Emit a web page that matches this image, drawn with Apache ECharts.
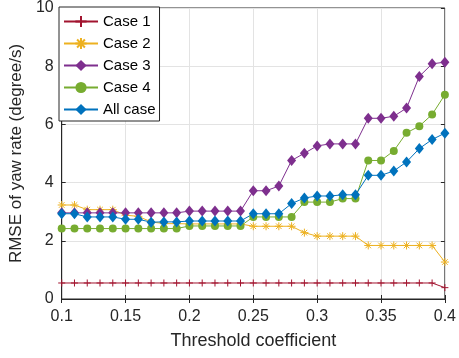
<!DOCTYPE html>
<html><head><meta charset="utf-8">
<script src="https://cdn.jsdelivr.net/npm/echarts@6/dist/echarts.min.js"></script>
<style>html,body{margin:0;padding:0;background:#fff}#c{width:459px;height:358px}</style>
</head><body><div id="c"></div>
<script>
const thresholds = [0.10,0.11,0.12,0.13,0.14,0.15,0.16,0.17,0.18,0.19,0.20,0.21,0.22,0.23,0.24,0.25,0.26,0.27,0.28,0.29,0.30,0.31,0.32,0.33,0.34,0.35,0.36,0.37,0.38,0.39,0.40];
const case1 = [0.55,0.55,0.55,0.55,0.55,0.55,0.55,0.55,0.55,0.55,0.55,0.55,0.55,0.55,0.55,0.55,0.55,0.55,0.55,0.55,0.55,0.55,0.55,0.55,0.55,0.55,0.55,0.55,0.55,0.55,0.39];
const case2 = [3.23,3.23,3.07,3.07,3.07,2.88,2.84,2.65,2.59,2.59,2.58,2.58,2.58,2.58,2.58,2.50,2.50,2.50,2.50,2.28,2.16,2.16,2.16,2.16,1.84,1.84,1.84,1.84,1.84,1.84,1.27];
const case3 = [2.96,2.96,2.96,2.96,2.96,2.96,2.96,2.96,2.96,2.96,3.02,3.02,3.02,3.02,3.02,3.72,3.72,3.88,4.76,5.01,5.26,5.33,5.33,5.33,6.21,6.21,6.28,6.56,7.65,8.08,8.14];
const case4 = [2.42,2.42,2.42,2.42,2.42,2.42,2.42,2.42,2.42,2.42,2.51,2.51,2.51,2.51,2.51,2.82,2.82,2.82,2.82,3.33,3.33,3.33,3.45,3.45,4.76,4.76,5.09,5.71,5.94,6.34,7.02];
const allCase = [2.93,2.93,2.82,2.82,2.82,2.74,2.74,2.64,2.65,2.65,2.68,2.68,2.68,2.68,2.68,2.93,2.93,2.93,3.28,3.47,3.54,3.54,3.58,3.58,4.25,4.25,4.40,4.71,5.17,5.48,5.70];
const seriesNames = ['Case 1','Case 2','Case 3','Case 4','All case'];
const xTicks = ['0.1','0.15','0.2','0.25','0.3','0.35','0.4'];

const colors = ['#A2142F','#EDB120','#7E2F8E','#77AC30','#0072BD'];
const plusPath = 'path://M0,-1L0,1M-1,0L1,0';
const starPath = 'path://M0,-1L0,1M-1,0L1,0M-0.7,-0.7L0.7,0.7M-0.7,0.7L0.7,-0.7';
const symbols = [plusPath, starPath, 'diamond', 'circle', 'diamond'];
const sizes = [[7,7],[8,8],[9,11],[8,8],[9,11]];
const datas = [case1, case2, case3, case4, allCase];
const font = 'Liberation Sans, Arial, Helvetica, sans-serif';
const axColor = '#262626';

const series = seriesNames.map((n,i)=>({
  name:n, type:'line', xAxisIndex:0, yAxisIndex:0,
  data: thresholds.map((t,j)=>[t, datas[i][j]]),
  symbol: symbols[i], symbolSize: sizes[i], showAllSymbol:true,
  lineStyle:{color:colors[i], width:1},
  itemStyle:{color: i<2 ? 'rgba(0,0,0,0)' : colors[i], borderColor: colors[i], borderWidth: i<2 ? 1 : 0},
  emphasis:{disabled:true}, animation:false
}));

const chart = echarts.init(document.getElementById('c'));
chart.setOption({
  animation:false,
  color: colors,
  grid:{left:59, right:12, top:7, bottom:59, show:true, borderColor:axColor, borderWidth:1, backgroundColor:'#fff'},
  legend:{
    orient:'vertical', left:59, top:7, itemWidth:34, itemHeight:14, itemGap:7,
    backgroundColor:'#fff', borderColor:axColor, borderWidth:1, padding:[7,4,4,4],
    textStyle:{fontFamily:font, fontSize:15, color:'#000'},
    data: seriesNames
  },
  xAxis:[{
    type:'value', min:0.1, max:0.4, interval:0.05,
    name:'Threshold coefficient', nameLocation:'middle', nameGap:33,
    nameTextStyle:{fontFamily:font, fontSize:18, color:axColor},
    axisLine:{lineStyle:{color:axColor}},
    axisTick:{inside:true, length:4, lineStyle:{color:axColor}},
    axisLabel:{fontFamily:font, fontSize:16, color:axColor, margin:10,
      formatter:(v)=>{const k=Math.round((v-0.1)/0.05); return xTicks[k]!==undefined?xTicks[k]:'';}},
    splitLine:{show:true, lineStyle:{color:'#e3e3e3'}}
  },{
    type:'value', min:0.1, max:0.4, interval:0.05, position:'top',
    axisLine:{show:false}, axisTick:{inside:true, length:4, lineStyle:{color:axColor}},
    axisLabel:{show:false}, splitLine:{show:false}
  }],
  yAxis:[{
    type:'value', min:0, max:10, interval:2,
    name:'RMSE of yaw rate (degree/s)', nameLocation:'middle', nameGap:33,
    nameTextStyle:{fontFamily:font, fontSize:17, color:axColor},
    axisLine:{show:true, lineStyle:{color:axColor}},
    axisTick:{show:true, inside:true, length:4, lineStyle:{color:axColor}},
    axisLabel:{fontFamily:font, fontSize:16, color:axColor, margin:8},
    splitLine:{show:true, lineStyle:{color:'#e3e3e3'}}
  },{
    type:'value', min:0, max:10, interval:2, position:'right',
    axisLine:{show:false}, axisTick:{show:true, inside:true, length:4, lineStyle:{color:axColor}},
    axisLabel:{show:false}, splitLine:{show:false}
  }],
  series: series
});
</script></body></html>
